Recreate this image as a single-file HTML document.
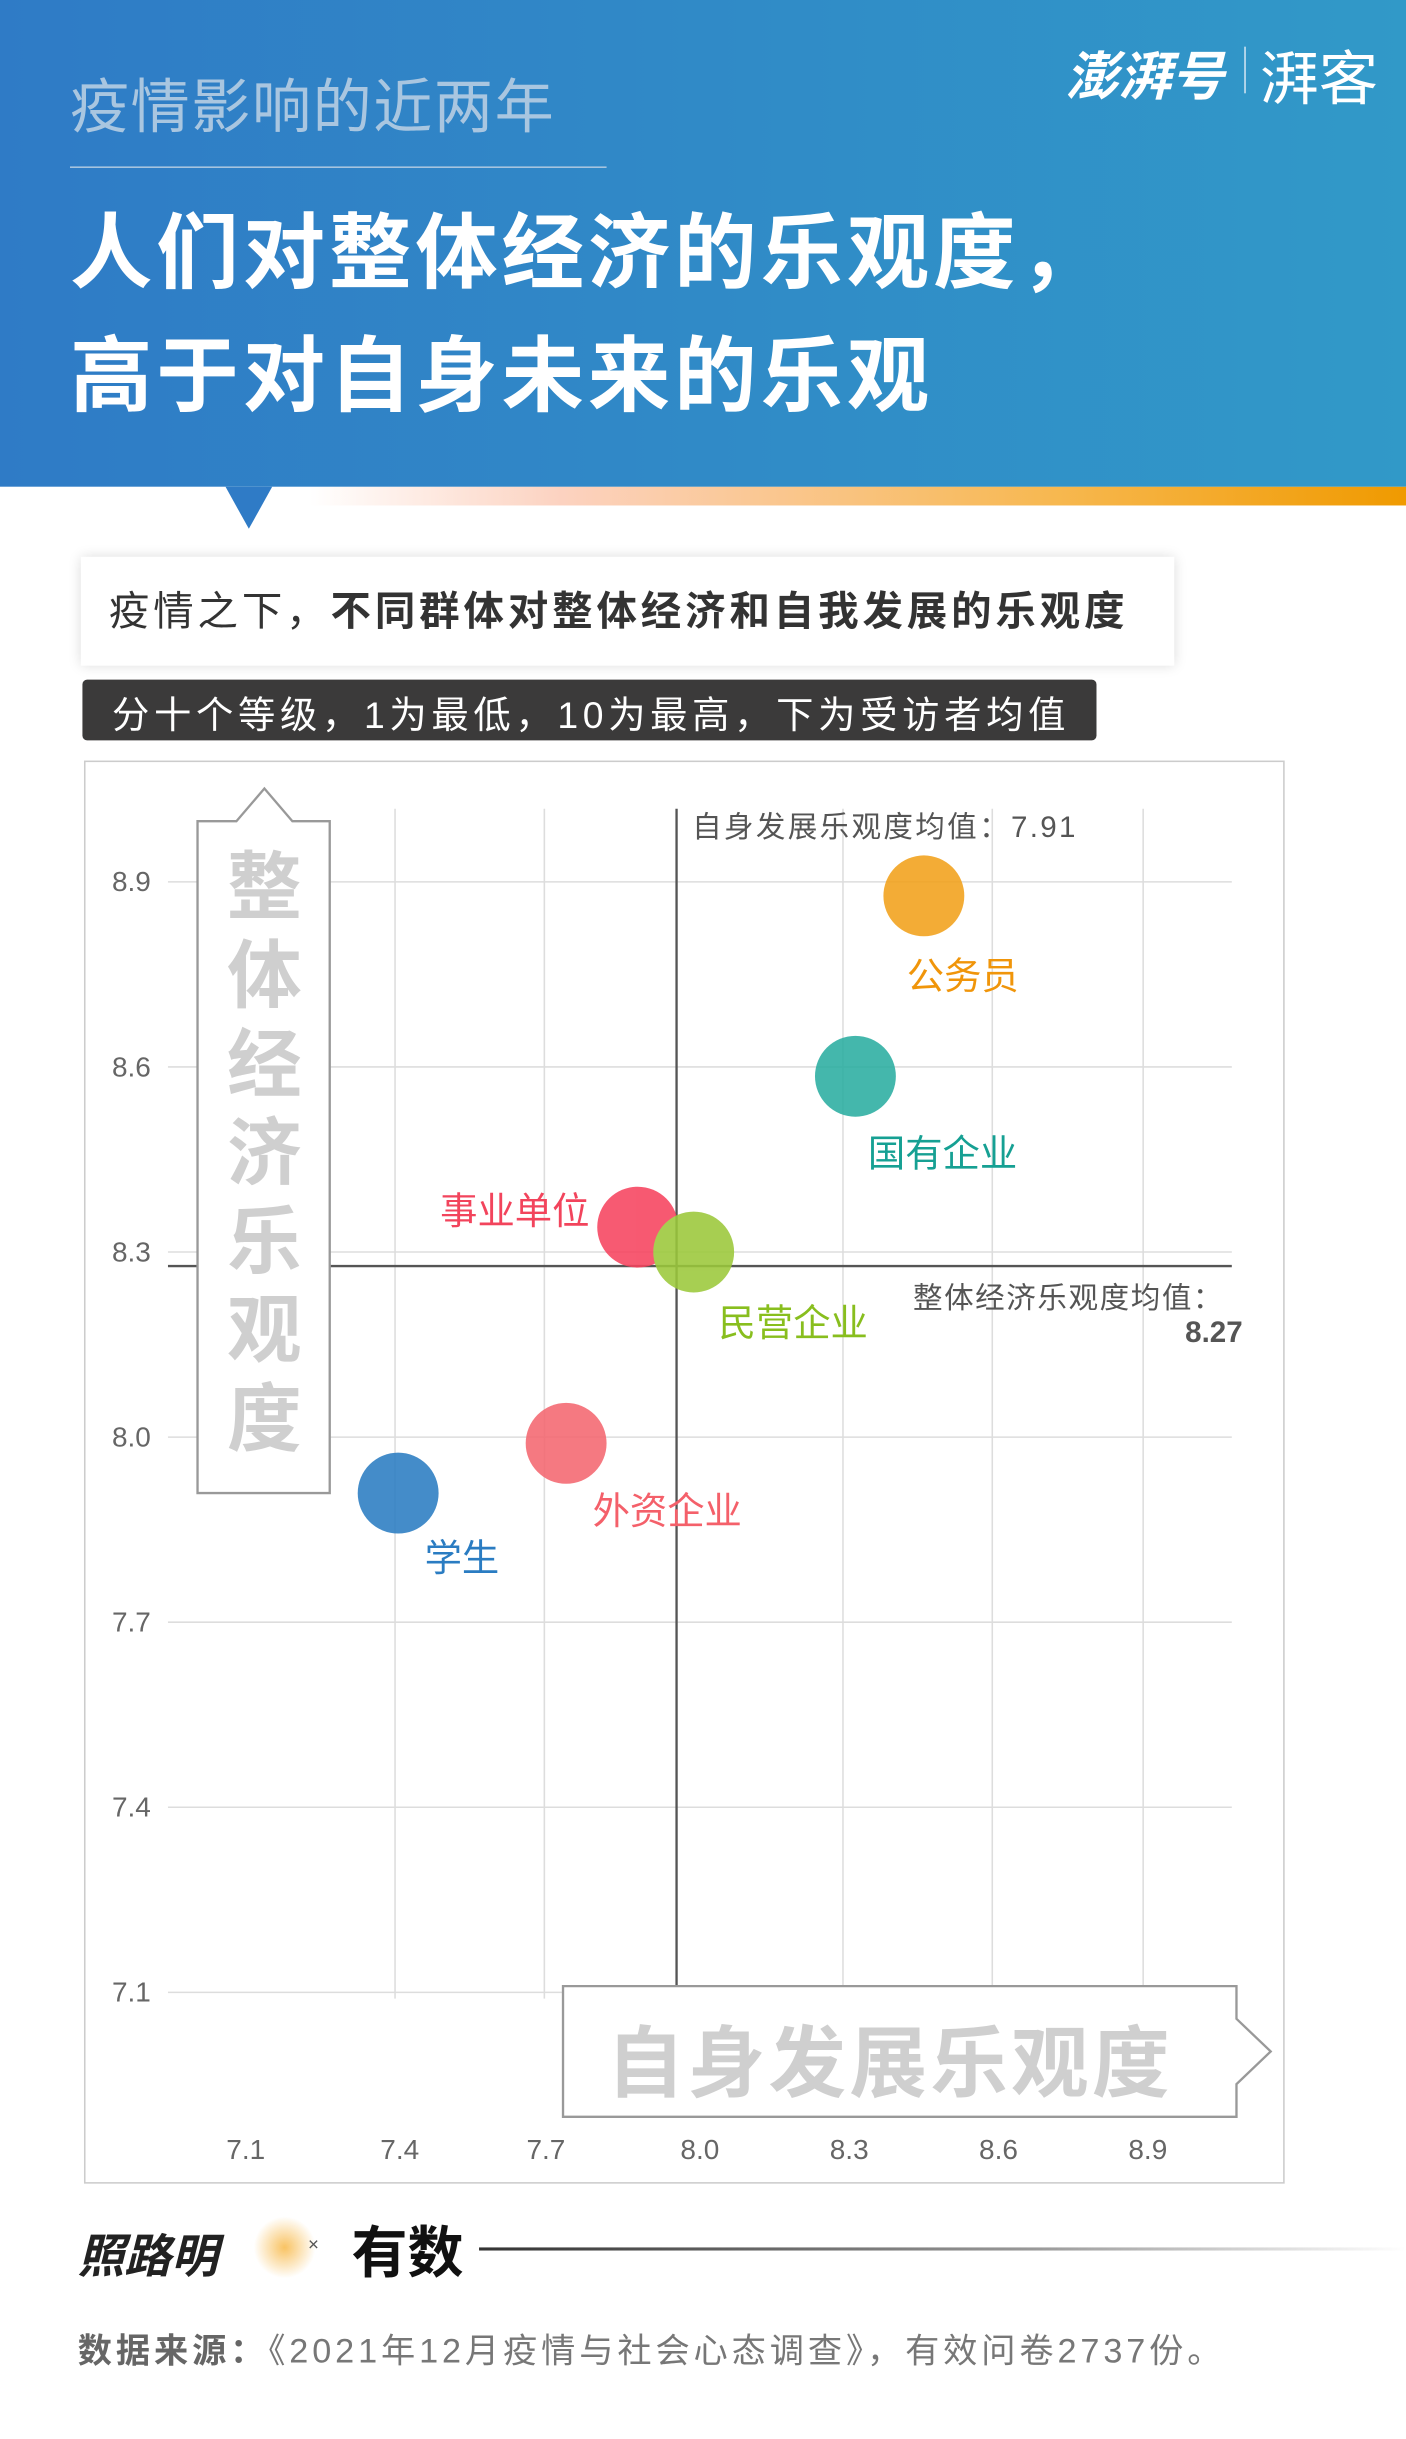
<!DOCTYPE html>
<html><head><meta charset="utf-8">
<style>
html,body{margin:0;padding:0;background:#fff;}
body{width:1406px;height:2438px;overflow:hidden;}
#w{position:absolute;left:0;top:0;width:904px;height:1568px;transform:scale(1.55531);transform-origin:0 0;font-family:"Liberation Sans","Noto Sans CJK SC",sans-serif;}
.a{position:absolute;white-space:nowrap;}
</style></head><body><div id="w">
<div class="a" style="left:0;top:0;width:904px;height:313px;background:linear-gradient(90deg,#2f7bc6,#3199c8);"></div>
<div class="a" style="left:45px;top:38px;font-size:38px;color:#a9c6e0;letter-spacing:1px;">疫情影响的近两年</div>
<div class="a" style="left:45px;top:107px;width:345px;height:1px;background:#a9c6e0;"></div>
<div class="a" style="left:45px;top:124px;font-size:53px;font-weight:bold;color:#fff;line-height:79px;letter-spacing:2.5px;">人们对整体经济的乐观度，<br>高于对自身未来的乐观</div>
<div class="a" style="left:685px;top:22px;font-size:34px;font-weight:bold;font-style:italic;color:#fff;">澎湃号</div>
<div class="a" style="left:800px;top:30px;width:1px;height:30px;background:#cfe3f2;"></div>
<div class="a" style="left:810px;top:20px;font-size:38px;color:#fff;">湃客</div>
<div class="a" style="left:0;top:313px;width:904px;height:12px;background:linear-gradient(90deg,#fff 22%,#fcd2c0 40%,#f7b850 75%,#f09a00);"></div>
<div class="a" style="left:145px;top:313px;width:0;height:0;border-left:15px solid transparent;border-right:15px solid transparent;border-top:27px solid #2f7bc6;"></div>
<div class="a" style="left:52px;top:358px;width:703px;height:70px;background:#fff;box-shadow:0 0 8px rgba(0,0,0,0.15);"></div>
<div class="a" style="left:70px;top:373px;font-size:26px;color:#333;letter-spacing:2.5px;">疫情之下，<b>不同群体对整体经济和自我发展的乐观度</b></div>
<div class="a" style="left:53px;top:437px;width:652px;height:39px;background:#3b3a3a;border-radius:3px;"></div>
<div class="a" style="left:72px;top:440px;font-size:24px;color:#fff;letter-spacing:3px;">分十个等级，1为最低，10为最高，下为受访者均值</div>
<div class="a" style="left:54px;top:489px;width:772px;height:915px;border:1px solid #ccc;box-sizing:border-box;"></div>
<svg class="a" style="left:0;top:0" width="904" height="1568">
<g stroke="#ddd" stroke-width="1">
<line x1="108" y1="567" x2="792" y2="567"/><line x1="108" y1="686" x2="792" y2="686"/><line x1="108" y1="805" x2="792" y2="805"/><line x1="108" y1="924" x2="792" y2="924"/><line x1="108" y1="1043" x2="792" y2="1043"/><line x1="108" y1="1162" x2="792" y2="1162"/><line x1="108" y1="1281" x2="792" y2="1281"/>
<line x1="254" y1="520" x2="254" y2="1285"/><line x1="350" y1="520" x2="350" y2="1285"/><line x1="542" y1="520" x2="542" y2="1285"/><line x1="638" y1="520" x2="638" y2="1285"/><line x1="735" y1="520" x2="735" y2="1285"/>
</g>
<line x1="435" y1="520" x2="435" y2="1285" stroke="#555" stroke-width="1.5"/>
<line x1="108" y1="814" x2="792" y2="814" stroke="#555" stroke-width="1.5"/>
<g fill="#666" font-size="18" font-family="Liberation Sans,sans-serif">
<text x="72" y="573">8.9</text><text x="72" y="692">8.6</text><text x="72" y="811">8.3</text><text x="72" y="930">8.0</text><text x="72" y="1049">7.7</text><text x="72" y="1168">7.4</text><text x="72" y="1287">7.1</text>
<g text-anchor="middle"><text x="158" y="1388">7.1</text><text x="257" y="1388">7.4</text><text x="351" y="1388">7.7</text><text x="450" y="1388">8.0</text><text x="546" y="1388">8.3</text><text x="642" y="1388">8.6</text><text x="738" y="1388">8.9</text></g>
</g>
<path d="M127,528 L152,528 L170,507 L188,528 L212,528 L212,960 L127,960 Z" fill="#fff" stroke="#999" stroke-width="1.5"/>
<path d="M362,1277 L795,1277 L795,1298 L817,1319 L795,1340 L795,1361 L362,1361 Z" fill="#fff" stroke="#999" stroke-width="1.5"/>
<g opacity="0.88">
<circle cx="594" cy="576" r="26" fill="#f1a01a"/>
<circle cx="550" cy="692" r="26" fill="#2aada0"/>
<circle cx="410" cy="789" r="26" fill="#f6435e"/>
<circle cx="446" cy="805" r="26" fill="#9bc83a"/>
<circle cx="364" cy="928" r="26" fill="#f4676f"/>
<circle cx="256" cy="960" r="26" fill="#2a7cc2"/>
</g>
</svg>
<div class="a" style="left:142px;top:543px;width:56px;font-size:48px;line-height:57px;font-weight:bold;color:#cfcfcf;white-space:normal;text-align:center;">整体经济乐观度</div>
<div class="a" style="left:390px;top:1287px;font-size:50px;color:#cfcfcf;font-weight:bold;letter-spacing:2px;">自身发展乐观度</div>
<div class="a" style="left:583px;top:608px;font-size:24px;color:#f0950a;">公务员</div>
<div class="a" style="left:558px;top:722px;font-size:24px;color:#16a093;">国有企业</div>
<div class="a" style="left:283px;top:759px;font-size:24px;color:#f2445c;">事业单位</div>
<div class="a" style="left:462px;top:831px;font-size:24px;color:#88be1e;">民营企业</div>
<div class="a" style="left:381px;top:952px;font-size:24px;color:#f4606a;">外资企业</div>
<div class="a" style="left:273px;top:982px;font-size:24px;color:#2a7cc2;">学生</div>
<div class="a" style="left:445px;top:517px;font-size:19px;color:#555;letter-spacing:1.5px;">自身发展乐观度均值：7.91</div>
<div class="a" style="left:587px;top:820px;font-size:19px;color:#555;letter-spacing:1px;">整体经济乐观度均值：</div>
<div class="a" style="left:762px;top:847px;font-size:19px;color:#555;font-weight:bold;">8.27</div>
<div class="a" style="left:163px;top:1425px;width:40px;height:40px;border-radius:50%;background:radial-gradient(circle,rgba(247,180,60,0.8),rgba(247,180,60,0) 70%);"></div>
<div class="a" style="left:50px;top:1426px;font-size:30px;font-weight:bold;color:#222;font-style:italic;">照路明</div>
<div class="a" style="left:198px;top:1436px;font-size:12px;color:#555;">×</div>
<div class="a" style="left:226px;top:1420px;font-size:36px;font-weight:bold;color:#111;">有数</div>
<div class="a" style="left:308px;top:1445px;width:596px;height:2px;background:linear-gradient(90deg,#333,#999 60%,rgba(255,255,255,0));"></div>
<div class="a" style="left:50px;top:1494px;font-size:22px;color:#777;letter-spacing:2.5px;"><b style="color:#666">数据来源：</b>《2021年12月疫情与社会心态调查》，有效问卷2737份。</div>
</div></body></html>
